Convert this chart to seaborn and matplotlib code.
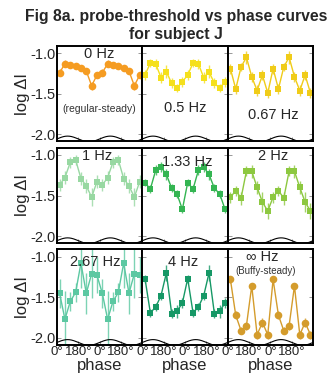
import numpy as np
import matplotlib
matplotlib.use("Agg")
import matplotlib.pyplot as plt
import seaborn as sns

sns.set_style("ticks")
plt.rcParams['font.family'] = ['Liberation Sans', 'DejaVu Sans']

# phase of each bin (deg), two cycles shown
phase = [22.5, 67.5, 112.5, 157.5, 202.5, 247.5, 292.5, 337.5,
         382.5, 427.5, 472.5, 517.5, 562.5, 607.5, 652.5, 697.5]

labels = ["0 Hz", "0.5 Hz", "0.67 Hz", "1 Hz", "1.33 Hz", "2 Hz", "2.67 Hz", "4 Hz", "\u221e Hz"]
colors = ["#F59C22", "#F5E01C", "#F0CC18", "#98D8A2", "#34B552", "#8DC840", "#5CC8A2", "#169866", "#D49C2C"]
markers = ["o", "s", "s", "s", "s", "s", "s", "s", "o"]

v_0 = [-1.24, -1.13, -1.15, -1.16, -1.18, -1.22, -1.40, -1.27,
       -1.24, -1.13, -1.15, -1.16, -1.18, -1.22, -1.40, -1.27]
v_05 = [-1.27, -1.12, -1.13, -1.30, -1.23, -1.37, -1.43, -1.35,
        -1.27, -1.12, -1.13, -1.30, -1.23, -1.37, -1.43, -1.35]
v_067 = [-1.19, -1.44, -1.17, -1.05, -1.29, -1.46, -1.27, -1.49,
         -1.19, -1.44, -1.17, -1.05, -1.29, -1.46, -1.27, -1.49]
v_1 = [-1.37, -1.28, -1.09, -1.06, -1.29, -1.38, -1.52, -1.33,
       -1.37, -1.28, -1.09, -1.06, -1.29, -1.38, -1.52, -1.33]
v_133 = [-1.34, -1.42, -1.19, -1.15, -1.24, -1.41, -1.48, -1.67,
         -1.34, -1.42, -1.19, -1.15, -1.24, -1.41, -1.48, -1.67]
v_2 = [-1.52, -1.44, -1.53, -1.20, -1.20, -1.40, -1.58, -1.69,
       -1.52, -1.44, -1.53, -1.20, -1.20, -1.40, -1.58, -1.69]
v_267 = [-1.45, -1.77, -1.55, -1.44, -1.08, -1.45, -1.21, -1.23,
         -1.45, -1.77, -1.55, -1.44, -1.08, -1.45, -1.21, -1.23]
v_4 = [-1.27, -1.69, -1.62, -1.48, -1.20, -1.70, -1.67, -1.57,
       -1.27, -1.69, -1.62, -1.48, -1.20, -1.70, -1.67, -1.57]
v_inf = [-1.28, -1.72, -1.91, -1.85, -1.36, -1.96, -1.81, -1.96,
         -1.28, -1.72, -1.91, -1.85, -1.36, -1.96, -1.81, -1.96]

e_0 = [0.04, 0.04, 0.03, 0.03, 0.03, 0.04, 0.05, 0.04] * 2
e_05 = [0.06, 0.05, 0.06, 0.07, 0.08, 0.06, 0.05, 0.06] * 2
e_067 = [0.06, 0.06, 0.05, 0.08, 0.06, 0.07, 0.06, 0.06] * 2
e_1 = [0.07, 0.08, 0.07, 0.06, 0.08, 0.09, 0.11, 0.08] * 2
e_133 = [0.04, 0.05, 0.06, 0.06, 0.07, 0.05, 0.05, 0.04] * 2
e_2 = [0.07, 0.06, 0.08, 0.06, 0.08, 0.08, 0.12, 0.10] * 2
e_267 = [0.18, 0.35, 0.12, 0.12, 0.30, 0.25, 0.30, 0.22] * 2
e_4 = [0.05, 0.05, 0.05, 0.05, 0.10, 0.06, 0.08, 0.06] * 2
e_inf = [0.04, 0.05, 0.04, 0.05, 0.04, 0.05, 0.05, 0.05] * 2

values = [v_0, v_05, v_067, v_1, v_133, v_2, v_267, v_4, v_inf]
errors = [e_0, e_05, e_067, e_1, e_133, e_2, e_267, e_4, e_inf]

fig, axes = plt.subplots(3, 3, figsize=(3.31, 3.79), dpi=100, sharex=True, sharey=True)
fig.subplots_adjust(left=0.172, right=0.946, top=0.879, bottom=0.09, wspace=0, hspace=0.065)

# stimulus waveform sketch along the bottom of each panel
wave_x = np.linspace(0, 720, 300)
wave_y = -2.055 + 0.035 * np.sin(np.radians(wave_x))

for i, ax in enumerate(axes.flat):
    c = colors[i]
    ax.vlines(phase, np.array(values[i]) - np.array(errors[i]), np.array(values[i]) + np.array(errors[i]),
              color=c, lw=1.0, alpha=0.8)
    sns.lineplot(x=phase, y=values[i], ax=ax, color=c, marker=markers[i],
                 markersize=5.5 if markers[i] == "o" else 5, markeredgewidth=0, lw=1.0)
    ax.plot(wave_x, wave_y, color="black", lw=0.8)
    ax.set_xlim(0, 720)
    ax.set_ylim(-2.085, -0.91)
    ax.set_yticks([-1.0, -1.5, -2.0])
    ax.set_yticklabels(["-1.0", "-1.5", "-2.0"])
    ax.set_xticks([0, 180, 360, 540])
    ax.set_xticklabels(["0\u00b0", "180\u00b0", "0\u00b0", "180\u00b0"])
    ax.tick_params(direction="in", length=3, width=0.6, color="#888888", labelsize=10.5, pad=1,
                   right=True, top=False)
    ax.tick_params(axis="x", labelsize=9.5, pad=1)
    for s in ax.spines.values():
        s.set_linewidth(1.4)
        s.set_color("black")
    ax.set_xlabel("")
    ax.set_ylabel("")
    if i % 3 == 0:
        ax.set_ylabel("log \u0394I", fontsize=12, labelpad=0)
    if i >= 6:
        ax.set_xlabel("phase", fontsize=12, labelpad=0)

# frequency labels
axes[0, 0].text(0.5, 0.91, "0 Hz", transform=axes[0, 0].transAxes, ha="center", va="center", fontsize=10.5)
axes[0, 0].text(0.5, 0.34, "(regular-steady)", transform=axes[0, 0].transAxes, ha="center", va="center",
                fontsize=7.5, color="#333333")
axes[0, 1].text(0.5, 0.35, "0.5 Hz", transform=axes[0, 1].transAxes, ha="center", va="center", fontsize=10.5)
axes[0, 2].text(0.53, 0.28, "0.67 Hz", transform=axes[0, 2].transAxes, ha="center", va="center", fontsize=10.5)
axes[1, 0].text(0.47, 0.91, "1 Hz", transform=axes[1, 0].transAxes, ha="center", va="center", fontsize=10.5)
axes[1, 1].text(0.53, 0.85, "1.33 Hz", transform=axes[1, 1].transAxes, ha="center", va="center", fontsize=10.5)
axes[1, 2].text(0.53, 0.91, "2 Hz", transform=axes[1, 2].transAxes, ha="center", va="center", fontsize=10.5)
axes[2, 0].text(0.45, 0.87, "2.67 Hz", transform=axes[2, 0].transAxes, ha="center", va="center", fontsize=10.5)
axes[2, 1].text(0.48, 0.87, "4 Hz", transform=axes[2, 1].transAxes, ha="center", va="center", fontsize=10.5)
axes[2, 2].text(0.41, 0.92, "\u221e Hz", transform=axes[2, 2].transAxes, ha="center", va="center", fontsize=10.5)
axes[2, 2].text(0.44, 0.77, "(Buffy-steady)", transform=axes[2, 2].transAxes, ha="center", va="center",
                fontsize=7, color="#333333")

fig.suptitle("Fig 8a. probe-threshold vs phase curves\nfor subject J", x=0.532, y=0.975,
             fontsize=11.3, fontweight="bold", linespacing=1.25)

fig.savefig("out.png", dpi=100)
